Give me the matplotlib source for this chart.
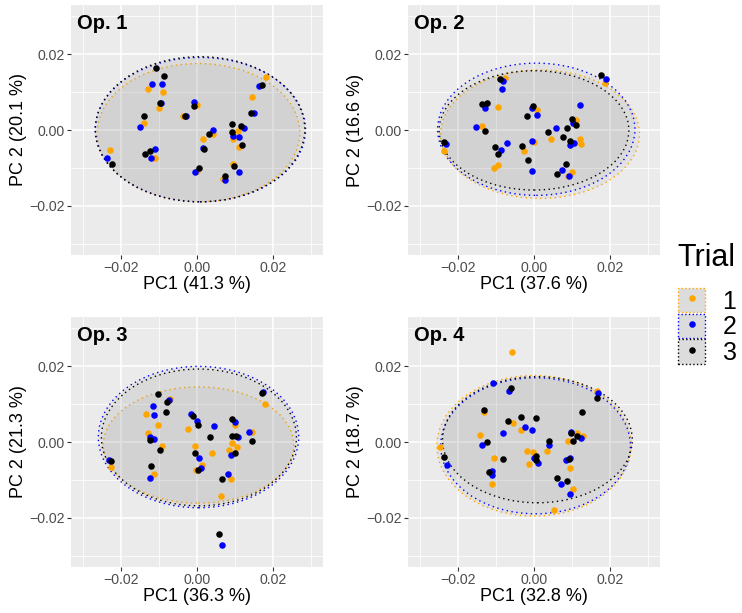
"""PCA score plots per operator (Op. 1-4), three trials each, with 95% ellipses."""

import matplotlib.pyplot as plt
from matplotlib.legend_handler import HandlerTuple
from matplotlib.lines import Line2D
from matplotlib.patches import Ellipse, Patch

plt.rcParams["font.family"] = ["Liberation Sans", "DejaVu Sans"]

TRIALS = ["1", "2", "3"]
TRIAL_COLORS = ["#FFA500", "#0000FF", "#000000"]
PANEL_TITLES = ["Op. 1", "Op. 2", "Op. 3", "Op. 4"]
PC1_VAR = ["41.3", "37.6", "36.3", "32.8"]
PC2_VAR = ["20.1", "16.6", "21.3", "18.7"]
MAJOR_TICKS = [-0.02, 0.0, 0.02]
TICK_LABELS = ["\u22120.02", "0.00", "0.02"]
MINOR_TICKS = [-0.03, -0.01, 0.01, 0.03]

# --- Op. 1 scores (trial 1 / 2 / 3) ---
op1_t1_x = [-0.0128, -0.0089, -0.0099, -0.0036, -0.0001, -0.0140, 0.0183, 0.0146, -0.0230,
            -0.0111, 0.0042, 0.0017, 0.0108, 0.0095, 0.0110, -0.0001, 0.0069, 0.0095]
op1_t1_y = [0.0109, 0.0101, 0.0057, 0.0037, 0.0065, 0.0018, 0.0140, 0.0086, -0.0053,
            -0.0075, -0.0011, -0.0024, -0.0002, -0.0025, -0.0046, -0.0108, -0.0129, -0.0089]
op1_t2_x = [-0.0118, -0.0093, -0.0095, -0.0029, -0.0009, -0.0150, 0.0163, 0.0150, 0.0125, -0.0238,
            -0.0110, -0.0122, 0.0042, 0.0017, 0.0096, 0.0111, -0.0006, 0.0073, 0.0111]
op1_t2_y = [0.0121, 0.0122, 0.0072, 0.0037, 0.0073, 0.0008, 0.0117, 0.0046, 0.0006, -0.0073,
            -0.0051, -0.0073, 0.0001, -0.0048, -0.0017, -0.0018, -0.0111, -0.0132, -0.0111]
op1_t3_x = [-0.0108, -0.0088, -0.0097, -0.0032, -0.0007, -0.0140, 0.0171, 0.0142, 0.0092, 0.0116,
            -0.0225, -0.0136, -0.0124, 0.0032, 0.0018, 0.0092, 0.0118, 0.0005, 0.0075, 0.0098]
op1_t3_y = [0.0163, 0.0143, 0.0072, 0.0037, 0.0063, 0.0038, 0.0118, 0.0044, 0.0017, 0.0011,
            -0.0089, -0.0063, -0.0055, -0.0011, -0.0050, -0.0006, -0.0039, -0.0099, -0.0122, -0.0096]

# --- Op. 2 scores ---
op2_t1_x = [-0.0236, -0.0077, -0.0096, -0.0136, -0.0105, -0.0096, -0.0026, 0.0009, -0.0001,
            0.0046, 0.0186, 0.0110, 0.0121, 0.0124, 0.0101, 0.0089]
op2_t1_y = [-0.0054, 0.0136, 0.0060, 0.0011, -0.0099, -0.0092, -0.0056, 0.0053, -0.0032,
            -0.0025, 0.0123, 0.0026, -0.0023, -0.0038, -0.0111, -0.0120]
op2_t2_x = [-0.0231, -0.0082, -0.0085, -0.0129, -0.0152, -0.0088, -0.0072, -0.0004, 0.0007, -0.0005,
            -0.0004, 0.0059, 0.0120, 0.0095, 0.0105, 0.0075, 0.0092, 0.0190, 0.0103]
op2_t2_y = [-0.0036, 0.0130, 0.0107, 0.0058, 0.0009, -0.0053, -0.0035, 0.0058, 0.0039, -0.0028,
            -0.0107, 0.0004, 0.0066, -0.0040, -0.0033, -0.0104, -0.0121, 0.0135, 0.0018]
op2_t3_x = [-0.0236, -0.0089, -0.0136, -0.0123, -0.0129, -0.0103, -0.0095, -0.0031, -0.0015, -0.0018,
            -0.0002, 0.0037, 0.0077, 0.0099, 0.0110, 0.0088, 0.0096, 0.0083, 0.0061, 0.0177]
op2_t3_y = [-0.0031, 0.0133, 0.0069, 0.0072, -0.0003, -0.0044, -0.0064, -0.0041, -0.0078, 0.0038,
            0.0062, -0.0004, -0.0019, 0.0029, 0.0012, 0.0006, -0.0028, -0.0089, -0.0116, 0.0146]

# --- Op. 3 scores ---
op3_t1_x = [-0.0227, -0.0135, -0.0070, -0.0128, -0.0103, -0.0091, -0.0114, -0.0024, 0.0039, -0.0005,
            0.0013, -0.0002, 0.0089, 0.0063, 0.0179, 0.0101, 0.0091, 0.0106, 0.0083, 0.0146]
op3_t1_y = [-0.0065, 0.0075, 0.0114, 0.0025, 0.0044, -0.0010, -0.0083, 0.0033, -0.0028, -0.0010,
            -0.0061, -0.0073, -0.0097, -0.0142, 0.0101, 0.0044, -0.0002, -0.0014, -0.0021, 0.0026]
op3_t2_x = [-0.0231, -0.0117, -0.0075, -0.0112, -0.0125, -0.0113, -0.0124, -0.0017, -0.0001, 0.0046,
            0.0006, 0.0011, 0.0082, 0.0067, 0.0173, 0.0101, 0.0108, 0.0089, 0.0137]
op3_t2_y = [-0.0047, 0.0096, 0.0110, 0.0070, 0.0014, 0.0008, -0.0095, 0.0075, 0.0054, 0.0041,
            -0.0043, -0.0069, -0.0085, -0.0272, 0.0132, 0.0053, 0.0013, -0.0034, 0.0026]
op3_t3_x = [-0.0227, -0.0104, -0.0082, -0.0080, -0.0125, -0.0097, -0.0122, -0.0010, 0.0003, 0.0034,
            -0.0004, 0.0002, 0.0066, 0.0057, 0.0171, 0.0093, 0.0093, 0.0104, 0.0101, 0.0145]
op3_t3_y = [-0.0050, 0.0127, 0.0079, 0.0105, 0.0005, -0.0020, -0.0062, 0.0068, 0.0044, 0.0013,
            -0.0028, -0.0075, -0.0097, -0.0243, 0.0129, 0.0060, 0.0015, 0.0015, -0.0028, 0.0002]

# --- Op. 4 scores ---
op4_t1_x = [-0.0058, -0.0131, -0.0056, -0.0034, -0.0141, -0.0106, -0.0111, -0.0018, -0.0002, -0.0012,
            0.0034, 0.0053, 0.0112, 0.0129, 0.0089, 0.0096, 0.0102, -0.0249, 0.0165]
op4_t1_y = [0.0237, 0.0079, 0.0049, 0.0031, 0.0018, -0.0042, -0.0111, -0.0025, -0.0027, -0.0058,
            -0.0024, -0.0179, 0.0025, 0.0017, 0.0003, -0.0068, -0.0125, -0.0013, 0.0134]
op4_t2_x = [-0.0107, -0.0067, -0.0025, -0.0004, -0.0081, -0.0138, -0.0110, -0.0110, -0.0001, 0.0010,
            0.0040, 0.0071, 0.0097, 0.0125, 0.0085, 0.0096, 0.0096, -0.0230, 0.0168]
op4_t2_y = [0.0156, 0.0135, 0.0040, 0.0032, 0.0023, -0.0008, -0.0076, -0.0088, -0.0042, -0.0055,
            -0.0007, -0.0110, 0.0027, 0.0011, -0.0048, -0.0043, -0.0138, -0.0061, 0.0130]
op4_t3_x = [-0.0060, -0.0132, -0.0068, -0.0035, 0.0004, -0.0125, -0.0082, -0.0118, 0.0004, 0.0004,
            0.0040, 0.0061, 0.0088, 0.0127, 0.0097, 0.0114, 0.0102, 0.0091, 0.0165, -0.0237]
op4_t3_y = [0.0142, 0.0083, 0.0054, 0.0066, 0.0062, 0.0001, -0.0044, -0.0080, -0.0038, -0.0048,
            0.0003, -0.0096, -0.0102, 0.0080, 0.0023, 0.0016, 0.0003, -0.0046, 0.0115, -0.0039]

# 95% ellipses per panel, one row per trial: centre x, centre y, semi-axis x, semi-axis y
op1_ellipses = [(0.0004, -0.0007, 0.0267, 0.0182), (0.0009, 0.0001, 0.0277, 0.0190),
                (0.0008, 0.0002, 0.0276, 0.0191)]
op2_ellipses = [(0.0016, -0.0011, 0.0262, 0.0169), (0.0006, 0.0002, 0.0260, 0.0174),
                (0.0000, -0.0001, 0.0250, 0.0157)]
op3_ellipses = [(0.0004, -0.0008, 0.0251, 0.0153), (0.0004, 0.0013, 0.0264, 0.0186),
                (0.0005, 0.0012, 0.0257, 0.0180)]
op4_ellipses = [(0.0000, -0.0010, 0.0256, 0.0185), (0.0004, -0.0010, 0.0250, 0.0179),
                (0.0009, 0.0006, 0.0250, 0.0166)]

PANELS = [
    ([(op1_t1_x, op1_t1_y), (op1_t2_x, op1_t2_y), (op1_t3_x, op1_t3_y)], op1_ellipses),
    ([(op2_t1_x, op2_t1_y), (op2_t2_x, op2_t2_y), (op2_t3_x, op2_t3_y)], op2_ellipses),
    ([(op3_t1_x, op3_t1_y), (op3_t2_x, op3_t2_y), (op3_t3_x, op3_t3_y)], op3_ellipses),
    ([(op4_t1_x, op4_t1_y), (op4_t2_x, op4_t2_y), (op4_t3_x, op4_t3_y)], op4_ellipses),
]

W, H = 742, 613
PANEL_ORIGINS = [(71, 5), (408, 5), (71, 317), (408, 317)]  # top-left, pixels
PANEL_W, PANEL_H = 252, 250
DOTTED = (0, (1, 2.5))
FILL = (0.5, 0.5, 0.5, 0.08)
MS = 4.7


def style_axes(ax, idx):
    ax.set_facecolor("#EBEBEB")
    for sp in ax.spines.values():
        sp.set_visible(False)
    ax.set_xlim(-0.0332, 0.0332)
    ax.set_ylim(-0.0329, 0.0329)
    ax.set_xticks(MAJOR_TICKS)
    ax.set_yticks(MAJOR_TICKS)
    ax.set_xticklabels(TICK_LABELS)
    ax.set_yticklabels(TICK_LABELS)
    ax.set_xticks(MINOR_TICKS, minor=True)
    ax.set_yticks(MINOR_TICKS, minor=True)
    ax.grid(which="major", color="white", lw=1.1)
    ax.grid(which="minor", color="white", lw=0.55)
    ax.set_axisbelow(True)
    ax.tick_params(which="major", length=2.6, width=0.8, color="#333333",
                   labelsize=10.2, labelcolor="#4D4D4D", pad=1.8)
    ax.tick_params(which="minor", length=0)
    ax.set_xlabel(f"PC1 ({PC1_VAR[idx]} %)", fontsize=13, labelpad=0.5)
    ax.set_ylabel(f"PC 2 ({PC2_VAR[idx]} %)", fontsize=13, labelpad=2)
    ax.text(0.024, 0.965, PANEL_TITLES[idx], transform=ax.transAxes,
            fontsize=14.5, fontweight="bold", ha="left", va="top")


fig = plt.figure(figsize=(W / 100, H / 100), dpi=100)

for idx, (scores, ellipses) in enumerate(PANELS):
    x0, y0 = PANEL_ORIGINS[idx]
    ax = fig.add_axes([x0 / W, 1 - (y0 + PANEL_H) / H, PANEL_W / W, PANEL_H / H])
    style_axes(ax, idx)
    for (cx, cy, a, b), color in zip(ellipses, TRIAL_COLORS):
        ax.add_patch(Ellipse((cx, cy), 2 * a, 2 * b, facecolor=FILL,
                             edgecolor=color, lw=1.0, ls=DOTTED, zorder=2))
    for (xs, ys), color in zip(scores, TRIAL_COLORS):
        ax.plot(xs, ys, "o", color=color, ms=MS, mec="none", zorder=3)

# legend
fig.text(677 / W, 1 - 266 / H, "Trial", fontsize=22, ha="left", va="baseline")
handles = [
    (Patch(facecolor="#DCDCDC", edgecolor=c, lw=1.0, ls=":"),
     Line2D([], [], marker="o", ls="none", color=c, ms=MS, mec="none"))
    for c in TRIAL_COLORS
]
fig.legend(handles, TRIALS, loc="upper left", bbox_to_anchor=(678 / W, 1 - 288 / H),
           frameon=False, fontsize=18, handlelength=1.08, handleheight=1.12,
           handletextpad=0.7, labelspacing=0.0, borderpad=0, borderaxespad=0,
           handler_map={tuple: HandlerTuple(ndivide=1, pad=0)})

fig.savefig("out.png", dpi=100)
